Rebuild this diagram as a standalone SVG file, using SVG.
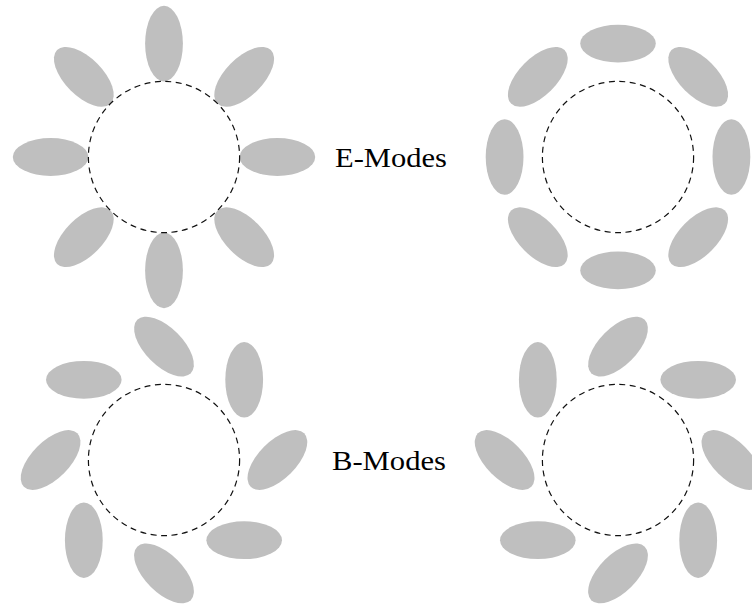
<svg xmlns="http://www.w3.org/2000/svg" xmlns:xlink="http://www.w3.org/1999/xlink" width="752" height="606" viewBox="0 0 752 606">
  <style>
    .ring { fill: none; stroke: #111; stroke-width: 1.2; stroke-dasharray: 6 4.5; }
    .blob { fill: #bfbfbf; }
    .label { font-family: "Liberation Serif", "DejaVu Serif", serif; font-size: 28px; fill: #000; }
  </style>
  <defs>
    <!-- one polarisation stick, long axis along x -->
    <ellipse id="stick" class="blob" cx="0" cy="0" rx="37.8" ry="18.9"/>
  </defs>

  <!-- E-mode, radial pattern -->
  <g id="e-radial" transform="translate(164 157)">
    <use xlink:href="#stick" transform="rotate(0) translate(113.4 0)"/>
    <use xlink:href="#stick" transform="rotate(45) translate(113.4 0)"/>
    <use xlink:href="#stick" transform="rotate(90) translate(113.4 0)"/>
    <use xlink:href="#stick" transform="rotate(135) translate(113.4 0)"/>
    <use xlink:href="#stick" transform="rotate(180) translate(113.4 0)"/>
    <use xlink:href="#stick" transform="rotate(225) translate(113.4 0)"/>
    <use xlink:href="#stick" transform="rotate(270) translate(113.4 0)"/>
    <use xlink:href="#stick" transform="rotate(315) translate(113.4 0)"/>
    <circle class="ring" cx="0" cy="0" r="75.6"/>
  </g>

  <!-- E-mode, tangential pattern -->
  <g id="e-tangential" transform="translate(618 157)">
    <use xlink:href="#stick" transform="rotate(0) translate(113.4 0) rotate(90)"/>
    <use xlink:href="#stick" transform="rotate(45) translate(113.4 0) rotate(90)"/>
    <use xlink:href="#stick" transform="rotate(90) translate(113.4 0) rotate(90)"/>
    <use xlink:href="#stick" transform="rotate(135) translate(113.4 0) rotate(90)"/>
    <use xlink:href="#stick" transform="rotate(180) translate(113.4 0) rotate(90)"/>
    <use xlink:href="#stick" transform="rotate(225) translate(113.4 0) rotate(90)"/>
    <use xlink:href="#stick" transform="rotate(270) translate(113.4 0) rotate(90)"/>
    <use xlink:href="#stick" transform="rotate(315) translate(113.4 0) rotate(90)"/>
    <circle class="ring" cx="0" cy="0" r="75.6"/>
  </g>

  <!-- B-mode, sticks at -45 degrees to the radius -->
  <g id="b-left" transform="translate(164 460)">
    <use xlink:href="#stick" transform="rotate(0) translate(113.4 0) rotate(-45)"/>
    <use xlink:href="#stick" transform="rotate(45) translate(113.4 0) rotate(-45)"/>
    <use xlink:href="#stick" transform="rotate(90) translate(113.4 0) rotate(-45)"/>
    <use xlink:href="#stick" transform="rotate(135) translate(113.4 0) rotate(-45)"/>
    <use xlink:href="#stick" transform="rotate(180) translate(113.4 0) rotate(-45)"/>
    <use xlink:href="#stick" transform="rotate(225) translate(113.4 0) rotate(-45)"/>
    <use xlink:href="#stick" transform="rotate(270) translate(113.4 0) rotate(-45)"/>
    <use xlink:href="#stick" transform="rotate(315) translate(113.4 0) rotate(-45)"/>
    <circle class="ring" cx="0" cy="0" r="75.6"/>
  </g>

  <!-- B-mode, sticks at +45 degrees to the radius -->
  <g id="b-right" transform="translate(618 460)">
    <use xlink:href="#stick" transform="rotate(0) translate(113.4 0) rotate(45)"/>
    <use xlink:href="#stick" transform="rotate(45) translate(113.4 0) rotate(45)"/>
    <use xlink:href="#stick" transform="rotate(90) translate(113.4 0) rotate(45)"/>
    <use xlink:href="#stick" transform="rotate(135) translate(113.4 0) rotate(45)"/>
    <use xlink:href="#stick" transform="rotate(180) translate(113.4 0) rotate(45)"/>
    <use xlink:href="#stick" transform="rotate(225) translate(113.4 0) rotate(45)"/>
    <use xlink:href="#stick" transform="rotate(270) translate(113.4 0) rotate(45)"/>
    <use xlink:href="#stick" transform="rotate(315) translate(113.4 0) rotate(45)"/>
    <circle class="ring" cx="0" cy="0" r="75.6"/>
  </g>

  <g id="labels">
    <text id="label-e" class="label" x="335" y="167" textLength="112" lengthAdjust="spacingAndGlyphs">E-Modes</text>
    <text id="label-b" class="label" x="332" y="470" textLength="114" lengthAdjust="spacingAndGlyphs">B-Modes</text>
  </g>
</svg>
